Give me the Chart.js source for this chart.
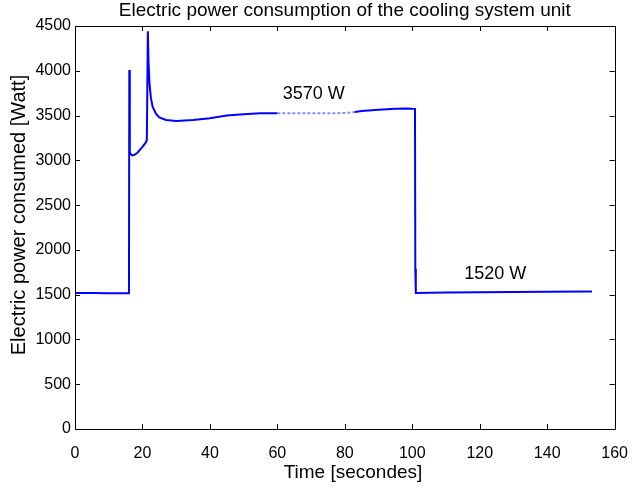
<!DOCTYPE html>
<html><head><meta charset="utf-8">
<script src="https://cdn.jsdelivr.net/npm/chart.js@4/dist/chart.umd.min.js"></script>
<style>html,body{margin:0;padding:0;background:#fff}#wrap{width:643px;height:490px}</style>
</head><body><div id="wrap"><canvas id="c" width="643" height="490"></canvas></div>
<script>
// ---- data ----
const timeS  = [0, 5, 10, 16.0, 16.1, 16.2, 16.3, 16.5, 17.0, 17.5, 18.5, 20, 21.0, 21.3, 21.6, 21.8, 22.1, 22.5, 23, 24, 25, 27, 30, 35, 40, 45, 50, 55, 60, 65, 70, 75, 80, 83, 85, 90, 95, 98, 100.8, 100.9, 101.0, 101.1, 110, 120, 130, 140, 153.3];
const powerW = [1520, 1518, 1517, 1516, 4010, 3250, 3090, 3070, 3055, 3060, 3085, 3150, 3200, 3230, 4440, 4100, 3850, 3700, 3600, 3520, 3480, 3450, 3440, 3450, 3470, 3500, 3515, 3525, 3525, 3525, 3525, 3526, 3528, 3540, 3550, 3565, 3575, 3580, 3575, 1790, 1780, 1520, 1525, 1528, 1530, 1532, 1535];
const xTickValues = [0, 20, 40, 60, 80, 100, 120, 140, 160];
const yTickValues = [0, 500, 1000, 1500, 2000, 2500, 3000, 3500, 4000, 4500];
const noteTexts = ["3570 W", "1520 W"];
const noteX = [70.8, 124.6];
const noteY = [3735, 1735];
const chartTitle = "Electric power consumption of the cooling system unit";
const xTitle = "Time [secondes]";
const yTitle = "Electric power consumed [Watt]";

const FONT = "'Liberation Sans', Arial, Helvetica, sans-serif";

const boxPlugin = {
  id: 'boxPlugin',
  afterDatasetsDraw(chart) {
    const {ctx, chartArea: a, scales: {x, y}} = chart;
    ctx.save();
    ctx.strokeStyle = '#000';
    ctx.lineWidth = 1;
    ctx.beginPath();
    ctx.rect(Math.round(a.left) + 0.5, Math.round(a.top) + 0.5, Math.round(a.right - a.left), Math.round(a.bottom - a.top));
    ctx.stroke();
    const tl = 5;
    ctx.beginPath();
    xTickValues.forEach(v => {
      const px = Math.round(x.getPixelForValue(v)) + 0.5;
      ctx.moveTo(px, a.bottom); ctx.lineTo(px, a.bottom - tl);
      ctx.moveTo(px, a.top); ctx.lineTo(px, a.top + tl);
    });
    yTickValues.forEach(v => {
      const py = Math.round(y.getPixelForValue(v)) + 0.5;
      ctx.moveTo(a.left, py); ctx.lineTo(a.left + tl, py);
      ctx.moveTo(a.right, py); ctx.lineTo(a.right - tl, py);
    });
    ctx.stroke();
    // texts
    ctx.fillStyle = '#000';
    ctx.textAlign = 'center';
    ctx.textBaseline = 'middle';
    ctx.font = '19px ' + FONT;
    ctx.fillText(chartTitle, (a.left + a.right) / 2, 11);
    ctx.fillText(xTitle, 353, 473);
    ctx.save();
    ctx.font = '20px ' + FONT;
    ctx.translate(19, 215);
    ctx.rotate(-Math.PI / 2);
    ctx.fillText(yTitle, 0, 0);
    ctx.restore();
    ctx.font = '18px ' + FONT;
    noteTexts.forEach((t, i) => {
      ctx.fillText(t, x.getPixelForValue(noteX[i]), y.getPixelForValue(noteY[i]));
    });
    ctx.restore();
  }
};

new Chart(document.getElementById('c'), {
  type: 'line',
  data: {
    datasets: [{
      data: timeS.map((t, i) => ({x: t, y: powerW[i]})),
      borderColor: '#0000ff',
      borderWidth: 2,
      pointRadius: 0,
      tension: 0,
      fill: false,
      segment: {
        borderColor: c => (c.p0.parsed.x >= 60 && c.p1.parsed.x <= 83) ? 'rgba(60,60,255,0.6)' : undefined,
        borderDash: c => (c.p0.parsed.x >= 60 && c.p1.parsed.x <= 83) ? [3, 2] : undefined
      }
    }]
  },
  options: {
    responsive: false,
    animation: false,
    devicePixelRatio: 1,
    layout: {padding: {top: 26, right: 16, left: 0, bottom: 0}},
    plugins: {legend: {display: false}, tooltip: {enabled: false}, title: {display: false}},
    scales: {
      x: {
        type: 'linear', min: 0, max: 160,
        afterFit(s) { s.height = 61; },
        afterBuildTicks(s) { s.ticks = xTickValues.map(v => ({value: v})); },
        grid: {display: false, drawTicks: false},
        border: {display: false},
        ticks: {color: '#000', font: {family: FONT, size: 16}, padding: 15, maxRotation: 0, autoSkip: false,
                callback: v => String(v)}
      },
      y: {
        type: 'linear', min: 0, max: 4500,
        afterFit(s) { s.width = 75; },
        afterBuildTicks(s) { s.ticks = yTickValues.map(v => ({value: v})); },
        grid: {display: false, drawTicks: false},
        border: {display: false},
        ticks: {color: '#000', font: {family: FONT, size: 16}, padding: 4, autoSkip: false,
                callback: v => String(v)}
      }
    }
  },
  plugins: [boxPlugin]
});
</script>
</body></html>
